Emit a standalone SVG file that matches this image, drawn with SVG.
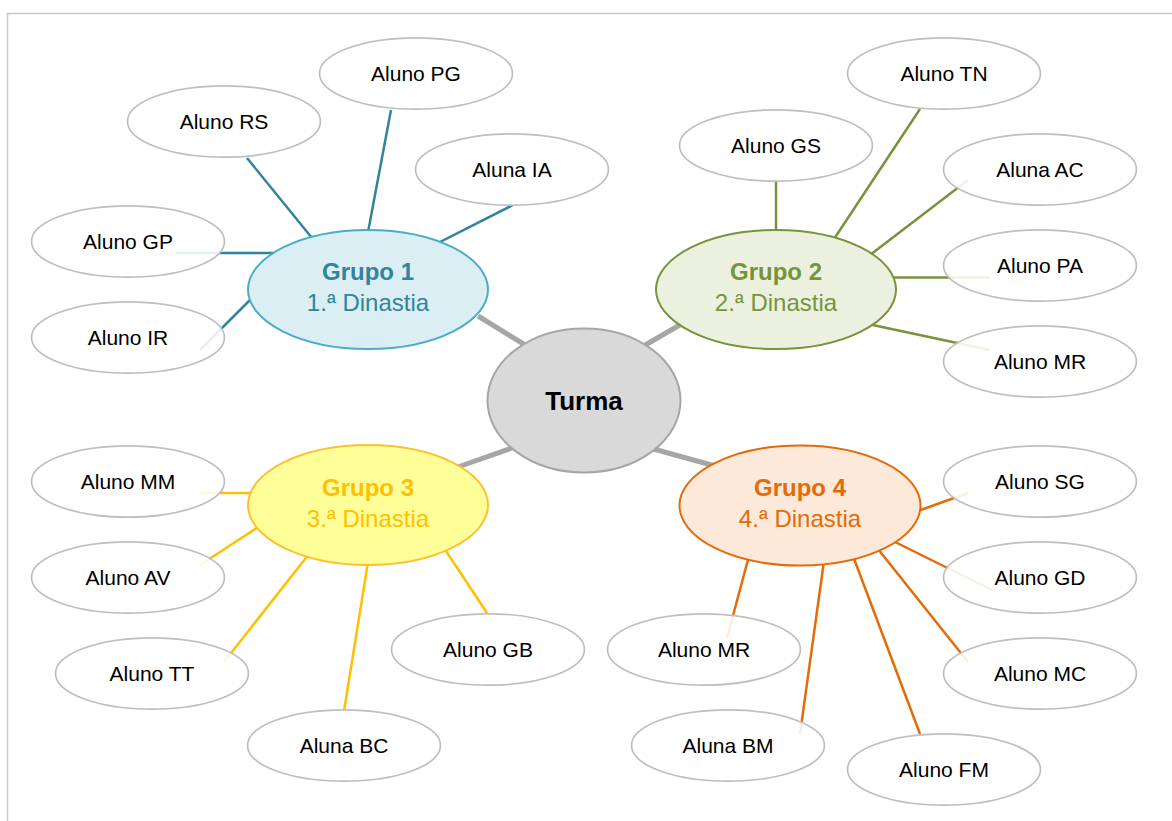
<svg xmlns="http://www.w3.org/2000/svg" width="1172" height="821" viewBox="0 0 1172 821">
<style>
.st{fill:#fff;fill-opacity:0.88;stroke:#bfbfbf;stroke-width:1.7}
.stt{font-family:"Liberation Sans",Arial,sans-serif;font-size:21px;fill:#000;text-anchor:middle}
.gt{font-family:"Liberation Sans",Arial,sans-serif;font-size:24px;text-anchor:middle}
.b{font-weight:bold}
.c0{stroke:#a6a6a6;stroke-width:5}
.c1{stroke:#31849b;stroke-width:2.5}
.c2{stroke:#77933c;stroke-width:2.5}
.c3{stroke:#ffc000;stroke-width:2.5}
.c4{stroke:#e36c09;stroke-width:2.5}
</style>
<rect x="0" y="0" width="1172" height="821" fill="#fff"/>
<rect x="7.5" y="13.5" width="1200" height="900" fill="none" stroke="#c8c8c8" stroke-width="1.5"/>
<g id="connectors" fill="none">
<line class="c0" x1="478" y1="316" x2="530" y2="348"/>
<line class="c0" x1="640" y1="348" x2="685" y2="322"/>
<line class="c0" x1="455" y1="468" x2="515" y2="447"/>
<line class="c0" x1="650" y1="448" x2="715" y2="466"/>
<line class="c1" x1="247" y1="158" x2="312" y2="238"/>
<line class="c1" x1="391" y1="110" x2="368" y2="232"/>
<line class="c1" x1="513" y1="205" x2="438" y2="243"/>
<line class="c1" x1="176" y1="253" x2="274" y2="253"/>
<line class="c1" x1="200" y1="350" x2="252" y2="298"/>
<line class="c2" x1="776" y1="181" x2="776" y2="233"/>
<line class="c2" x1="920" y1="109" x2="834" y2="239"/>
<line class="c2" x1="968" y1="180" x2="870" y2="255"/>
<line class="c2" x1="990" y1="277.5" x2="892" y2="277.5"/>
<line class="c2" x1="990" y1="350" x2="868" y2="324"/>
<line class="c3" x1="200" y1="493" x2="252" y2="493"/>
<line class="c3" x1="200" y1="565" x2="260" y2="526"/>
<line class="c3" x1="224" y1="662" x2="309" y2="554"/>
<line class="c3" x1="344" y1="711" x2="368" y2="562"/>
<line class="c3" x1="487" y1="613" x2="444" y2="548"/>
<line class="c4" x1="968" y1="493" x2="918" y2="511"/>
<line class="c4" x1="992" y1="590" x2="893" y2="541"/>
<line class="c4" x1="968" y1="662" x2="878" y2="549"/>
<line class="c4" x1="920" y1="734" x2="853" y2="556"/>
<line class="c4" x1="727" y1="638" x2="749" y2="556"/>
<line class="c4" x1="800" y1="734" x2="824" y2="561"/>
</g>
<g id="turma">
<ellipse cx="584" cy="400.5" rx="96.5" ry="72" fill="#d9d9d9" stroke="#a6a6a6" stroke-width="2"/>
<text x="584" y="410" font-family="Liberation Sans,Arial,sans-serif" font-size="26" font-weight="bold" text-anchor="middle" fill="#000">Turma</text>
</g>
<g id="grupo1">
<ellipse cx="368" cy="289.5" rx="120" ry="59.5" fill="#daeef3" stroke="#4bacc6" stroke-width="2"/>
<text class="gt b" x="368" y="280" fill="#31849b">Grupo 1</text>
<text class="gt" x="368" y="311" fill="#31849b">1.ª Dinastia</text>
</g>
<g id="grupo2">
<ellipse cx="776" cy="289.5" rx="120" ry="59.5" fill="#ebf1de" stroke="#77933c" stroke-width="2"/>
<text class="gt b" x="776" y="280" fill="#77933c">Grupo 2</text>
<text class="gt" x="776" y="311" fill="#77933c">2.ª Dinastia</text>
</g>
<g id="grupo3">
<ellipse cx="368" cy="505" rx="120" ry="60" fill="#ffff99" stroke="#fcc12f" stroke-width="2"/>
<text class="gt b" x="368" y="496" fill="#ffc000">Grupo 3</text>
<text class="gt" x="368" y="527" fill="#ffc000">3.ª Dinastia</text>
</g>
<g id="grupo4">
<ellipse cx="800" cy="505.5" rx="120.5" ry="60" fill="#fde9d9" stroke="#e36c09" stroke-width="2"/>
<text class="gt b" x="800" y="496" fill="#e36c09">Grupo 4</text>
<text class="gt" x="800" y="527" fill="#e36c09">4.ª Dinastia</text>
</g>
<g id="aluno-pg"><ellipse class="st" cx="416" cy="73.5" rx="96.5" ry="35.7"/><text class="stt" x="416" y="81">Aluno PG</text></g>
<g id="aluno-rs"><ellipse class="st" cx="224" cy="121.5" rx="96.5" ry="35.7"/><text class="stt" x="224" y="129">Aluno RS</text></g>
<g id="aluna-ia"><ellipse class="st" cx="512" cy="169.5" rx="96.5" ry="35.7"/><text class="stt" x="512" y="177">Aluna IA</text></g>
<g id="aluno-gp"><ellipse class="st" cx="128" cy="241.5" rx="96.5" ry="35.7"/><text class="stt" x="128" y="249">Aluno GP</text></g>
<g id="aluno-ir"><ellipse class="st" cx="128" cy="337.5" rx="96.5" ry="35.7"/><text class="stt" x="128" y="345">Aluno IR</text></g>
<g id="aluno-tn"><ellipse class="st" cx="944" cy="73.5" rx="96.5" ry="35.7"/><text class="stt" x="944" y="81">Aluno TN</text></g>
<g id="aluno-gs"><ellipse class="st" cx="776" cy="145.5" rx="96.5" ry="35.7"/><text class="stt" x="776" y="153">Aluno GS</text></g>
<g id="aluna-ac"><ellipse class="st" cx="1040" cy="169.5" rx="96.5" ry="35.7"/><text class="stt" x="1040" y="177">Aluna AC</text></g>
<g id="aluno-pa"><ellipse class="st" cx="1040" cy="265.5" rx="96.5" ry="35.7"/><text class="stt" x="1040" y="273">Aluno PA</text></g>
<g id="aluno-mr2"><ellipse class="st" cx="1040" cy="361.5" rx="96.5" ry="35.7"/><text class="stt" x="1040" y="369">Aluno MR</text></g>
<g id="aluno-mm"><ellipse class="st" cx="128" cy="481.5" rx="96.5" ry="35.7"/><text class="stt" x="128" y="489">Aluno MM</text></g>
<g id="aluno-av"><ellipse class="st" cx="128" cy="577.5" rx="96.5" ry="35.7"/><text class="stt" x="128" y="585">Aluno AV</text></g>
<g id="aluno-tt"><ellipse class="st" cx="152" cy="673.5" rx="96.5" ry="35.7"/><text class="stt" x="152" y="681">Aluno TT</text></g>
<g id="aluna-bc"><ellipse class="st" cx="344" cy="745.5" rx="96.5" ry="35.7"/><text class="stt" x="344" y="753">Aluna BC</text></g>
<g id="aluno-gb"><ellipse class="st" cx="488" cy="649.5" rx="96.5" ry="35.7"/><text class="stt" x="488" y="657">Aluno GB</text></g>
<g id="aluno-sg"><ellipse class="st" cx="1040" cy="481.5" rx="96.5" ry="35.7"/><text class="stt" x="1040" y="489">Aluno SG</text></g>
<g id="aluno-gd"><ellipse class="st" cx="1040" cy="577.5" rx="96.5" ry="35.7"/><text class="stt" x="1040" y="585">Aluno GD</text></g>
<g id="aluno-mc"><ellipse class="st" cx="1040" cy="673.5" rx="96.5" ry="35.7"/><text class="stt" x="1040" y="681">Aluno MC</text></g>
<g id="aluno-mr4"><ellipse class="st" cx="704" cy="649.5" rx="96.5" ry="35.7"/><text class="stt" x="704" y="657">Aluno MR</text></g>
<g id="aluna-bm"><ellipse class="st" cx="728" cy="745.5" rx="96.5" ry="35.7"/><text class="stt" x="728" y="753">Aluna BM</text></g>
<g id="aluno-fm"><ellipse class="st" cx="944" cy="769.5" rx="96.5" ry="35.7"/><text class="stt" x="944" y="777">Aluno FM</text></g>
</svg>
